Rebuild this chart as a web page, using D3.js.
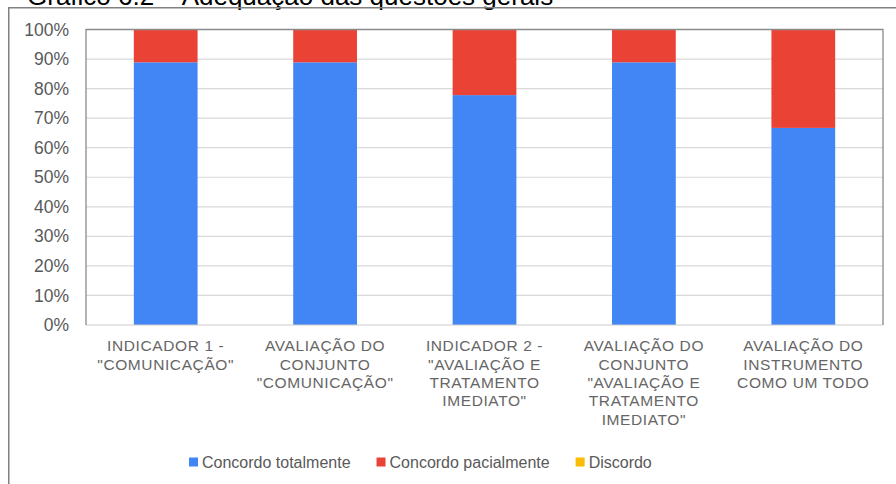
<!DOCTYPE html>
<html>
<head>
<meta charset="utf-8">
<script src="https://cdn.jsdelivr.net/npm/d3@7/dist/d3.min.js"></script>
<style>
  html, body { margin: 0; padding: 0; background: #fff; }
  svg { display: block; }
  text { font-family: "Liberation Sans", Arial, sans-serif; }
</style>
</head>
<body>
<svg id="chart" width="896" height="484"></svg>
<script>
const titleText = "Gráfico 6.2 – Adequação das questões gerais";
const categories = [
  ["INDICADOR 1 -", "\"COMUNICAÇÃO\""],
  ["AVALIAÇÃO DO", "CONJUNTO", "\"COMUNICAÇÃO\""],
  ["INDICADOR 2 -", "\"AVALIAÇÃO E", "TRATAMENTO", "IMEDIATO\""],
  ["AVALIAÇÃO DO", "CONJUNTO", "\"AVALIAÇÃO E", "TRATAMENTO", "IMEDIATO\""],
  ["AVALIAÇÃO DO", "INSTRUMENTO", "COMO UM TODO"]
];
const seriesNames = ["Concordo totalmente", "Concordo pacialmente", "Discordo"];
const concordoTotalmente = [88.9, 88.9, 77.8, 88.9, 66.7];
const concordoParcialmente = [11.1, 11.1, 22.2, 11.1, 33.3];
const discordo = [0, 0, 0, 0, 0];
const yTicks = [0, 10, 20, 30, 40, 50, 60, 70, 80, 90, 100];
const colors = ["#4285F4", "#EA4335", "#FBBC04"];

const svg = d3.select("#chart");
const W = 896, H = 484;
const plot = { left: 86, right: 883, top: 29.5, bottom: 325 };

svg.append("rect").attr("width", W).attr("height", H).attr("fill", "#fff");

// title (cut off at top in the reference)
svg.append("text")
  .attr("x", 27).attr("y", 4.5)
  .attr("font-size", 26)
  .attr("fill", "#000")
  .text(titleText);

// outer border (extends off image at right/bottom)
svg.append("rect")
  .attr("x", 8.75).attr("y", 7.75)
  .attr("width", 1000).attr("height", 1000)
  .attr("fill", "none")
  .attr("stroke", "#808080").attr("stroke-width", 1.5);

const rows = categories.map((c, i) => ({
  key: i,
  [seriesNames[0]]: concordoTotalmente[i],
  [seriesNames[1]]: concordoParcialmente[i],
  [seriesNames[2]]: discordo[i]
}));

const x = d3.scaleBand()
  .domain(categories.map((c, i) => i))
  .range([plot.left, plot.right])
  .paddingInner(0.6).paddingOuter(0.3);

const y = d3.scaleLinear().domain([0, 100]).range([plot.bottom, plot.top]);

// gridlines
svg.append("g").selectAll("line")
  .data(yTicks.filter(t => t > 0 && t < 100))
  .join("line")
  .attr("x1", plot.left).attr("x2", plot.right)
  .attr("y1", d => y(d)).attr("y2", d => y(d))
  .attr("stroke", "#d9d9d9").attr("stroke-width", 1.2);

// bars
const stack = d3.stack().keys(seriesNames)(rows);
svg.append("g").selectAll("g")
  .data(stack)
  .join("g")
  .attr("fill", (d, i) => colors[i])
  .selectAll("rect")
  .data(d => d)
  .join("rect")
  .attr("x", d => x(d.data.key))
  .attr("width", x.bandwidth())
  .attr("y", d => y(d[1]))
  .attr("height", d => Math.max(0, y(d[0]) - y(d[1])));

// frame
svg.append("line")
  .attr("x1", plot.left).attr("x2", plot.right)
  .attr("y1", plot.bottom).attr("y2", plot.bottom)
  .attr("stroke", "#cccccc").attr("stroke-width", 1.2);
svg.append("path")
  .attr("d", `M${plot.left},${plot.bottom}V${plot.top}H${plot.right}V${plot.bottom}`)
  .attr("fill", "none")
  .attr("stroke", "#8a8a8a").attr("stroke-width", 1.3);

// y axis labels
const yAxis = d3.axisLeft(y).tickValues(yTicks).tickFormat(d => d + "%").tickSize(0).tickPadding(17);
const ya = svg.append("g").attr("transform", `translate(${plot.left},0)`).call(yAxis);
ya.select(".domain").remove();
ya.selectAll("text")
  .attr("font-size", 17.5)
  .attr("fill", "#595959")
  .attr("font-family", "'Liberation Sans', Arial, sans-serif");

// x labels
const xl = svg.append("g");
categories.forEach((lines, i) => {
  const cx = x(i) + x.bandwidth() / 2;
  const t = xl.append("text")
    .attr("text-anchor", "middle")
    .attr("font-size", 15.5)
    .attr("letter-spacing", 0.6)
    .attr("fill", "#666666");
  lines.forEach((ln, j) => {
    t.append("tspan").attr("x", cx).attr("y", 351.3 + j * 18.3).text(ln);
  });
});

// legend
const lg = svg.append("g");
let lx = 189;
seriesNames.forEach((name, i) => {
  lg.append("rect")
    .attr("x", lx).attr("y", 457.5)
    .attr("width", 9).attr("height", 9)
    .attr("fill", colors[i]);
  const t = lg.append("text")
    .attr("x", lx + 13).attr("y", 467.5)
    .attr("font-size", 16)
    .attr("fill", "#595959")
    .text(name);
  lx += 13 + t.node().getComputedTextLength() + 26;
});
</script>
</body>
</html>
